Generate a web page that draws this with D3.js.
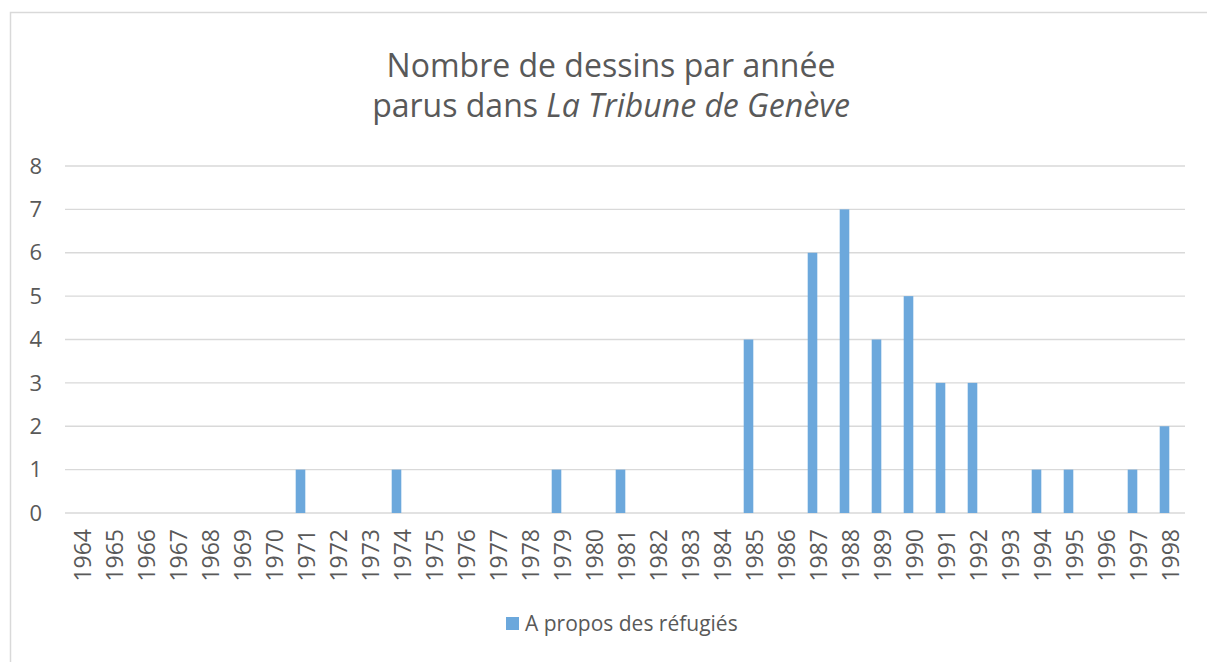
<!DOCTYPE html>
<html>
<head>
<meta charset="utf-8">
<script src="https://cdn.jsdelivr.net/npm/d3@7"></script>
<style>
    body { margin: 0; background: #fff; }
    svg { display: block; font-family: "Open Sans", sans-serif; }
</style>
</head>
<body>
<div id="myChart"></div>
<script>
// years on the x axis
const years = ["1964", "1965", "1966", "1967", "1968", "1969", "1970", "1971", "1972", "1973",
    "1974", "1975", "1976", "1977", "1978", "1979", "1980", "1981", "1982", "1983",
    "1984", "1985", "1986", "1987", "1988", "1989", "1990", "1991", "1992", "1993",
    "1994", "1995", "1996", "1997", "1998"];

// number of drawings per year
const dessins = [0, 0, 0, 0, 0, 0, 0, 1, 0, 0,
    1, 0, 0, 0, 0, 1, 0, 1, 0, 0,
    0, 4, 0, 6, 7, 4, 5, 3, 3, 0,
    1, 1, 0, 1, 2];

const yTicks = [0, 1, 2, 3, 4, 5, 6, 7, 8];
const seriesName = "A propos des réfugiés";

const W = 1207, H = 662;
const textColor = "#595959";
const barColor = "#6ca8dc";
const gridColor = "#d9d9d9";

let svg = d3.select("#myChart")
    .append("svg")
    .attr("width", W)
    .attr("height", H);

// chart border
svg.append("rect")
    .attr("x", 10.5)
    .attr("y", 12.5)
    .attr("width", 1210)
    .attr("height", 700)
    .attr("fill", "none")
    .attr("stroke", gridColor)
    .attr("stroke-width", 1.5);

// title
let title = svg.append("text")
    .attr("text-anchor", "middle")
    .attr("fill", textColor)
    .style("font-size", "32px");
title.append("tspan").attr("x", 611).attr("y", 77).text("Nombre de dessins par année");
let l2 = title.append("tspan").attr("x", 611).attr("y", 117);
l2.append("tspan").text("parus dans ");
l2.append("tspan").style("font-style", "italic").text("La Tribune de Genève");

// scales
let x = d3.scaleBand()
    .domain(years)
    .range([60.5, 1180.5])
    .padding(0);

let y = d3.scaleLinear()
    .domain([0, 8])
    .range([513, 166]);

// gridlines
svg.append("g")
    .selectAll("line")
    .data(yTicks)
    .enter()
    .append("line")
    .attr("x1", 65)
    .attr("x2", 1185)
    .attr("y1", d => y(d))
    .attr("y2", d => y(d))
    .attr("stroke", gridColor)
    .attr("stroke-width", 1.3);

// y labels
svg.append("g")
    .selectAll("text")
    .data(yTicks)
    .enter()
    .append("text")
    .attr("x", 42)
    .attr("y", d => y(d))
    .attr("dy", "0.35em")
    .attr("text-anchor", "end")
    .attr("fill", textColor)
    .style("font-size", "22px")
    .text(d => d);

// bars
let barW = x.bandwidth() * 0.3;
svg.append("g")
    .selectAll("rect")
    .data(years.map((yr, i) => ({ year: yr, v: dessins[i] })))
    .enter()
    .append("rect")
    .attr("x", d => x(d.year) + (x.bandwidth() - barW) / 2)
    .attr("y", d => y(d.v))
    .attr("width", barW)
    .attr("height", d => y(0) - y(d.v))
    .attr("fill", barColor);

// x labels, rotated
svg.append("g")
    .selectAll("text")
    .data(years)
    .enter()
    .append("text")
    .attr("transform", d => "translate(" + (x(d) + x.bandwidth() / 2 + 6) + ",529) rotate(-90)")
    .attr("dy", "0.35em")
    .attr("text-anchor", "end")
    .attr("fill", textColor)
    .style("font-size", "23px")
    .text(d => d);

// legend
svg.append("rect")
    .attr("x", 506)
    .attr("y", 617)
    .attr("width", 13)
    .attr("height", 13)
    .attr("fill", barColor);
svg.append("text")
    .attr("x", 525)
    .attr("y", 631)
    .attr("fill", textColor)
    .style("font-size", "21px")
    .text(seriesName);
</script>
</body>
</html>
